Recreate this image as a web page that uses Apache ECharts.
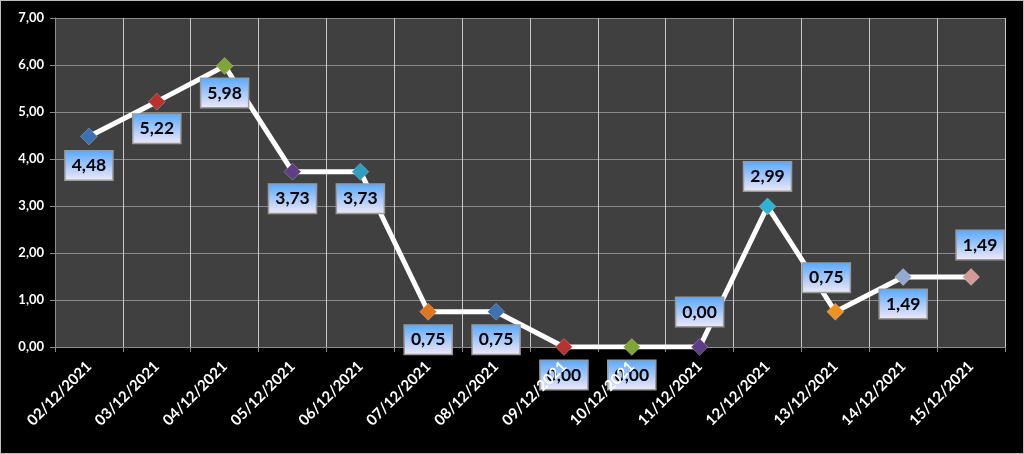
<!DOCTYPE html>
<html><head><meta charset="utf-8">
<script src="https://cdn.jsdelivr.net/npm/echarts@6/dist/echarts.min.js"></script>
<style>
html,body{margin:0;padding:0;background:#000;}
#c{width:1024px;height:454px;position:relative;}
#frame{position:absolute;left:0;top:0;width:1022px;height:452px;border:1px solid #bdbdbd;pointer-events:none;}
</style></head><body>
<div id="c"></div><div id="frame"></div>
<script>
var categories = ['02/12/2021','03/12/2021','04/12/2021','05/12/2021','06/12/2021','07/12/2021','08/12/2021','09/12/2021','10/12/2021','11/12/2021','12/12/2021','13/12/2021','14/12/2021','15/12/2021'];
var values = [4.48,5.22,5.98,3.73,3.73,0.75,0.75,0.00,0.00,0.00,2.99,0.75,1.49,1.49];
var yTicks = [0,1,2,3,4,5,6,7];
var markerColors = ['#3c72b4','#b8332f','#7fa534','#5e3f86','#2f9fbf','#e2761f','#3c72b4','#b8332f','#7fa534','#5e3f86','#2fb3d3','#f0921f','#93a9cf','#d39a98'];
// label placement: [dx, dy] relative to the point
var labelPlacement = [[0,29],[0,27],[0,27],[0,27],[0,27],[0,28],[0,28],[0,28],[0,28],[0,-35],[0,-30],[-9,-34],[0,27],[9,-32]];

var chart = echarts.init(document.getElementById('c'));
var labelBg = new echarts.graphic.LinearGradient(0,0,0,1,[{offset:0,color:'#55a8ff'},{offset:1,color:'#f2e9f8'}]);
var data = values.map(function(v,i){
  return {
    value: v,
    itemStyle: {color: markerColors[i], borderColor: 'rgba(255,255,255,0.25)', borderWidth: 1},
    label: {offset: labelPlacement[i]}
  };
});
var xLabelStyle = {color: '#fff', fontFamily: 'Lato', fontWeight: 'bold', fontSize: 15, rotate: 45, margin: 17, interval: 0};
chart.setOption({
  backgroundColor: '#000',
  animation: false,
  grid: {left: 55, right: 19, top: 18, bottom: 107, show: true, backgroundColor: '#404040', borderWidth: 0},
  xAxis: [{
    type: 'category', data: categories, boundaryGap: true,
    axisLine: {show: true, lineStyle: {color: '#8c8c8c', width: 1}},
    axisTick: {show: true, interval: 0, length: 5, lineStyle: {color: '#8c8c8c'}},
    splitLine: {show: true, interval: 0, lineStyle: {color: '#c8c8c8', width: 1}},
    axisLabel: {show: false, interval: 0}
  }, {
    type: 'category', data: categories, boundaryGap: true, position: 'bottom', z: 20,
    axisLine: {show: false}, axisTick: {show: false}, splitLine: {show: false},
    axisLabel: xLabelStyle
  }],
  yAxis: {
    type: 'value', min: 0, max: 7, interval: 1,
    axisLine: {show: true, lineStyle: {color: '#8c8c8c', width: 1}},
    axisTick: {show: true, length: 5, lineStyle: {color: '#8c8c8c'}},
    splitLine: {show: true, lineStyle: {color: '#8a8a8a', width: 1}},
    axisLabel: {color: '#fff', fontFamily: 'Lato', fontWeight: 'bold', fontSize: 13, margin: 11,
      formatter: function(v){ return yTicks.indexOf(v) >= 0 ? v.toFixed(2).replace('.', ',') : ''; }}
  },
  series: [{
    type: 'line', data: data, xAxisIndex: 0,
    symbol: 'diamond', symbolSize: [17,17],
    lineStyle: {color: '#fff', width: 5},
    z: 3,
    label: {
      show: true, position: 'inside',
      formatter: function(p){ return p.value.toFixed(2).replace('.', ','); },
      color: '#000', fontFamily: 'Lato', fontWeight: 'bold', fontSize: 17.5,
      backgroundColor: labelBg, borderColor: '#9a9a9a', borderWidth: 1.5,
      padding: [6,6,4,6]
    }
  }]
});
</script></body></html>
